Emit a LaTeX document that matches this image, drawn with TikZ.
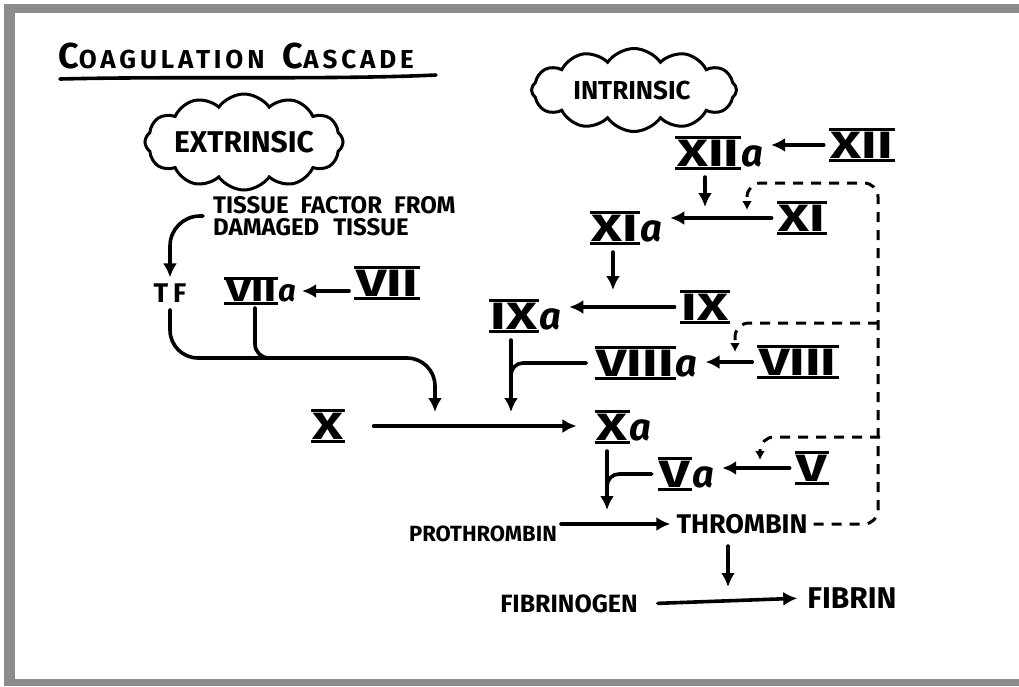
\documentclass[tikz,border=0pt]{standalone}
\usepackage{graphicx}
\usepackage{fontspec}
\setmainfont{Fira Sans}
\usetikzlibrary{arrows.meta,shapes.symbols}

\definecolor{framegray}{RGB}{140,140,140}

\newcommand\rnum[1]{\setbox0\hbox{\scalebox{1.4}[1]{#1}}%
  \rlap{\kern-2pt\rule[-3.5pt]{\dimexpr\wd0+4pt\relax}{3.2pt}}%
  \rlap{\kern-2pt\rule[\dimexpr\ht0+0.6pt\relax]{\dimexpr\wd0+4pt\relax}{3.2pt}}%
  \box0}
\newcommand\act{\kern2pt\textit{a}}

\begin{document}
\begin{tikzpicture}[x=1pt,y=-1pt,
    ink/.style={line width=3.6pt,line cap=round},
    arr/.style={ink,shorten <=5pt,-{Latex[length=14pt,width=14pt]}},
    fb/.style={line width=3pt,dash pattern=on 10pt off 8pt,rounded corners=14pt,
      -{Latex[length=9pt,width=10pt]}},
    num/.style={font=\bfseries\fontsize{38}{38}\selectfont,inner sep=2pt},
    lbl/.style={font=\bfseries\fontsize{26}{26}\selectfont,inner sep=2pt},
    puff/.style={cloud,draw,line width=3pt,cloud puffs=12,cloud puff arc=110,
      cloud ignores aspect,inner sep=0pt}]
\useasboundingbox (0,0) rectangle (1019,686);
\fill[framegray] (4,4) rectangle (1019,13);
\fill[framegray] (4,4) rectangle (15,686);
\fill[framegray] (4,679) rectangle (1019,686);

\node[font=\bfseries\addfontfeatures{LetterSpace=15}] (title) at (236,56)
  {\fontsize{36}{36}\selectfont C\fontsize{26}{26}\selectfont OAGULATION\hspace{18pt}\fontsize{36}{36}\selectfont C\fontsize{26}{26}\selectfont ASCADE};
\draw[ink] (60,79) .. controls (180,76) and (330,80) .. (436,75);

\node[puff,minimum width=198pt,minimum height=96pt] (extr) at (244,142) {};
\node[lbl,font=\bfseries\fontsize{30}{30}\selectfont] (extrlbl) at (244,142) {EXTRINSIC};
\node[puff,minimum width=205pt,minimum height=83pt] (intr) at (634,90) {};
\node[lbl] (intrlbl) at (632,90) {INTRINSIC};

\node[lbl,anchor=west,align=left,font=\bfseries\fontsize{24}{22}\selectfont] (tissue) at (211,216)
  {TISSUE\hspace{12pt}FACTOR\hspace{12pt}FROM\\DAMAGED\hspace{14pt}TISSUE};
\node[lbl,font=\bfseries\fontsize{27}{27}\selectfont] (TF) at (170,293) {T\kern5pt F};
\node[num,font=\bfseries\fontsize{31}{31}\selectfont] (VIIa) at (261,291) {\rnum{VII}\act};
\node[num] (VII) at (387,283) {\rnum{VII}};
\node[num] (X) at (328,426) {\rnum{X}};
\node[num] (Xa) at (624,427) {\rnum{X}\act};
\node[num] (XIIa) at (720,153) {\rnum{XII}\act};
\node[num] (XII) at (862,145) {\rnum{XII}};
\node[num] (XIa) at (627,228) {\rnum{XI}\act};
\node[num] (XI) at (802,218) {\rnum{XI}};
\node[num] (IXa) at (526,316) {\rnum{IX}\act};
\node[num] (IX) at (705,307) {\rnum{IX}};
\node[num] (VIIIa) at (647,363) {\rnum{VIII}\act};
\node[num] (VIII) at (798,362) {\rnum{VIII}};
\node[num] (Va) at (687,474) {\rnum{V}\act};
\node[num] (V) at (812,468) {\rnum{V}};
\node[lbl,font=\bfseries\fontsize{22}{22}\selectfont] (pro) at (483,534) {PROTHROMBIN};
\node[lbl,font=\bfseries\fontsize{27}{27}\selectfont] (thr) at (742,524) {THROMBIN};
\node[lbl,font=\bfseries\fontsize{25}{25}\selectfont] (fgen) at (569,604) {FIBRINOGEN};
\node[lbl,font=\bfseries\fontsize{30}{30}\selectfont] (fib) at (852,598) {FIBRIN};

\coordinate (tX) at (435,412);
\coordinate (bendX) at (435,358);
\coordinate (jV) at (300,358);
\coordinate (t12) at (705,207);
\coordinate (t11) at (613,290);
\coordinate (t9) at (511,412);
\coordinate (j8) at (511,385);
\coordinate (t10) at (607,510);
\coordinate (j5) at (607,492);
\coordinate (tF) at (728,587);
\coordinate (fbT) at (878,183);
\coordinate (fb11) at (747,210);
\coordinate (b8) at (878,323);
\coordinate (fb8) at (735,352);
\coordinate (b5) at (880,437);
\coordinate (fb5) at (760,460);

\draw[arr,rounded corners=30pt,shorten <=8pt,shorten >=4pt] (tissue.west) -| (TF.north);
\draw[arr,rounded corners=28pt] (TF.south) |- (bendX) -- (tX);
\draw[ink,rounded corners=14pt] ([xshift=-6pt]VIIa.south) |- (jV);
\draw[arr,shorten >=4pt] (VIIa.east -| VII.west) -- (VIIa.east);
\draw[arr,shorten <=28pt,shorten >=18pt] (X.east) -- (X.east -| Xa.west);
\draw[arr,shorten >=6pt] (XII.west) -- (XII.west -| XIIa.east);
\draw[arr] (XIIa.south -| t12) -- (t12);
\draw[arr,shorten >=6pt] (XI.west) -- (XI.west -| XIa.east);
\draw[arr] (XIa.south -| t11) -- (t11);
\draw[arr,shorten >=6pt] (IX.west) -- (IX.west -| IXa.east);
\draw[arr] (IXa.south -| t9) -- (t9);
\draw[arr,shorten >=6pt] (VIII.west) -- (VIII.west -| VIIIa.east);
\draw[ink,rounded corners=12pt,shorten <=8pt] (VIIIa.west) -| (j8);
\draw[arr,shorten >=6pt] (V.west) -- (V.west -| Va.east);
\draw[arr] (Xa.south -| t10) -- (t10);
\draw[ink,rounded corners=12pt,shorten <=6pt] (Va.west) -| (j5);
\draw[arr,shorten <=2pt,shorten >=4pt] (thr.west -| pro.east) -- (thr.west);
\draw[arr,shorten <=10pt] (thr.south -| tF) -- (tF);
\draw[arr,shorten <=18pt,shorten >=8pt] (fgen.east) -- (fib.west);
\draw[fb,shorten <=4pt] (thr.east) -| (fbT) -| (fb11);
\draw[fb] (b8) -| (fb8);
\draw[fb] (b5) -| (fb5);
\end{tikzpicture}
\end{document}
